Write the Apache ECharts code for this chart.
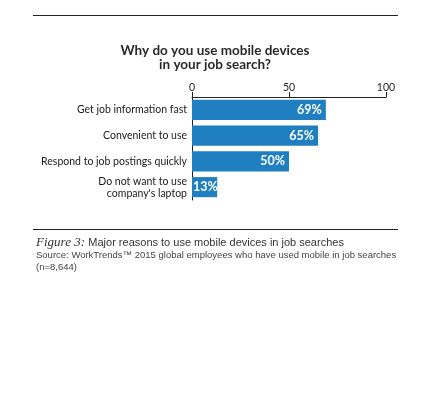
<!DOCTYPE html>
<html>
<head>
<meta charset="utf-8">
<script src="https://cdn.jsdelivr.net/npm/echarts@6/dist/echarts.min.js"></script>
<style>
  html, body { margin: 0; padding: 0; background: #fff; }
  #main { width: 432px; height: 397px; }
</style>
</head>
<body>
<div id="main"></div>
<script>
// reasons, top to bottom
var categories = ['Get job information fast', 'Convenient to use', 'Respond to job postings quickly', "Do not want to use\ncompany's laptop"];
var percentValues = [69, 65, 50, 13];
var tickLabels = [0, 50, 100];

var myChart = echarts.init(document.getElementById('main'));
window.onresize = myChart.resize;

// short bars keep their label tucked against the axis
var barData = percentValues.map(function (v) {
  if (v < 20) {
    return { value: v, label: { position: 'insideLeft', distance: 1 } };
  }
  return v;
});

myChart.setOption({
  animation: false,
  backgroundColor: '#fff',
  title: {
    text: 'Why do you use mobile devices\nin your job search?',
    left: 210,
    textAlign: 'center',
    top: 39,
    textStyle: {
      fontFamily: 'Lato',
      fontSize: 13.5,
      fontWeight: 'bold',
      color: '#2a2a2a',
      lineHeight: 14
    }
  },
  grid: {
    left: 192,
    right: 46,
    top: 97,
    bottom: 197
  },
  xAxis: {
    type: 'value',
    position: 'top',
    min: tickLabels[0],
    max: tickLabels[tickLabels.length - 1],
    interval: 50,
    axisLine: { show: true, lineStyle: { color: '#222', width: 1 } },
    axisTick: { show: true, length: 5, lineStyle: { color: '#222' } },
    splitLine: { show: false },
    axisLabel: {
      margin: 4,
      fontFamily: 'Lato',
      fontSize: 10.5,
      color: '#222'
    }
  },
  yAxis: {
    type: 'category',
    inverse: true,
    data: categories,
    axisLine: { show: true, lineStyle: { color: '#222', width: 1 } },
    axisTick: { show: false },
    axisLabel: {
      margin: 5,
      fontFamily: 'Lato',
      fontSize: 10.5,
      lineHeight: 12,
      color: '#1a1a1a'
    }
  },
  series: [{
    type: 'bar',
    data: barData,
    barCategoryGap: '22%',
    itemStyle: { color: '#1f7fc1' },
    label: {
      show: true,
      position: 'insideRight',
      distance: 4,
      formatter: '{c}%',
      color: '#fff',
      fontFamily: 'Lato',
      fontWeight: 'bold',
      fontSize: 12.5
    }
  }],
  graphic: [
    { type: 'line', shape: { x1: 33, y1: 15.5, x2: 398, y2: 15.5 }, style: { stroke: '#222', lineWidth: 1 } },
    { type: 'line', shape: { x1: 33, y1: 229.5, x2: 398, y2: 229.5 }, style: { stroke: '#222', lineWidth: 1 } },
    {
      type: 'text', left: 36, top: 236,
      style: {
        text: '{f|Figure 3:} {t|Major reasons to use mobile devices in job searches}',
        rich: {
          f: { fontFamily: 'Liberation Serif', fontStyle: 'italic', fontSize: 13, fill: '#333' },
          t: { fontFamily: 'Liberation Sans', fontSize: 11, fill: '#333' }
        }
      }
    },
    {
      type: 'text', left: 36, top: 249,
      style: {
        text: 'Source: WorkTrends\u2122 2015 global employees who have used mobile in job searches\n(n=8,644)',
        fontFamily: 'Liberation Sans',
        fontSize: 9.5,
        lineHeight: 12,
        fill: '#444'
      }
    }
  ]
});
</script>
</body>
</html>
